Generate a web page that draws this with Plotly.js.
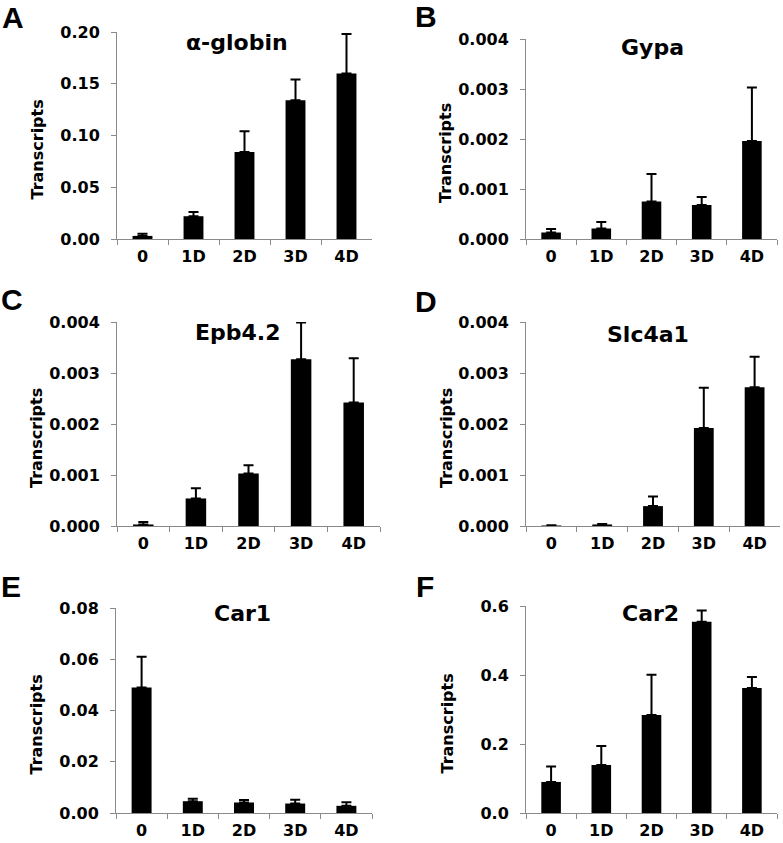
<!DOCTYPE html>
<html>
<head>
<meta charset="utf-8">
<script src="https://cdn.plot.ly/plotly-3.0.1.min.js"></script>
<style>html,body{margin:0;padding:0;background:#fff;}#chart{width:783px;height:843px;}</style>
</head>
<body>
<div id="chart"></div>
<script>
// ---- data ----
const categories = ['0', '1D', '2D', '3D', '4D'];

const alphaGlobin    = [0.003, 0.022, 0.084, 0.134, 0.160];
const alphaGlobinErr = [0.002, 0.004, 0.020, 0.020, 0.038];

const gypa    = [0.00013, 0.00021, 0.00075, 0.00068, 0.00196];
const gypaErr = [0.00007, 0.00013, 0.00055, 0.00016, 0.00107];

const epb42    = [0.00003, 0.00054, 0.00103, 0.00327, 0.00242];
const epb42Err = [0.00005, 0.00020, 0.00016, 0.00072, 0.00087];

const slc4a1    = [0.00001, 0.00003, 0.00039, 0.00192, 0.00272];
const slc4a1Err = [0.000003, 0.00001, 0.00019, 0.00079, 0.00060];

const car1    = [0.049, 0.0046, 0.0041, 0.0037, 0.0028];
const car1Err = [0.012, 0.0010, 0.0010, 0.0015, 0.0014];

const car2    = [0.090, 0.139, 0.284, 0.554, 0.362];
const car2Err = [0.045, 0.055, 0.117, 0.033, 0.032];

const geneNames    = ['α-globin', 'Gypa', 'Epb4.2', 'Slc4a1', 'Car1', 'Car2'];
const panelLetters = ['A', 'B', 'C', 'D', 'E', 'F'];
const yAxisTitle = 'Transcripts';

// ---- layout geometry (pixels) ----
const W = 783, H = 843;
const panels = [
  {vals: alphaGlobin, err: alphaGlobinErr, x0: 117, x1: 372, y0: 32,  y1: 239, max: 0.20,  dtick: 0.05,  fmt: '.2f', tx: 237, ty: 43,  lx: 13, ly: 17,  yx: 37},
  {vals: gypa,        err: gypaErr,        x0: 526, x1: 777, y0: 39,  y1: 239, max: 0.004, dtick: 0.001, fmt: '.3f', tx: 652, ty: 47,  lx: 426, ly: 16, yx: 446},
  {vals: epb42,       err: epb42Err,       x0: 117, x1: 380, y0: 322, y1: 526, max: 0.004, dtick: 0.001, fmt: '.3f', tx: 238, ty: 333, lx: 12, ly: 299, yx: 36},
  {vals: slc4a1,      err: slc4a1Err,      x0: 526, x1: 780, y0: 322, y1: 526, max: 0.004, dtick: 0.001, fmt: '.3f', tx: 648, ty: 335, lx: 426, ly: 302, yx: 446},
  {vals: car1,        err: car1Err,        x0: 116, x1: 372, y0: 608, y1: 813, max: 0.08,  dtick: 0.02,  fmt: '.2f', tx: 242, ty: 613, lx: 11, ly: 586, yx: 36},
  {vals: car2,        err: car2Err,        x0: 526, x1: 777, y0: 606, y1: 813, max: 0.6,   dtick: 0.2,   fmt: '.1f', tx: 650, ty: 613, lx: 425, ly: 586, yx: 447}
];

const FONT = 'DejaVu Sans, Liberation Sans, Arial, sans-serif';
const AXC = '#8a8a8a';

const data = [];
const layout = {
  width: W, height: H,
  margin: {l: 0, r: 0, t: 0, b: 0},
  paper_bgcolor: '#fff', plot_bgcolor: '#fff',
  showlegend: false,
  bargap: 0.61,
  annotations: []
};

panels.forEach((p, i) => {
  const n = i === 0 ? '' : String(i + 1);
  data.push({
    type: 'bar',
    x: categories,
    y: p.vals,
    xaxis: 'x' + n,
    yaxis: 'y' + n,
    marker: {color: '#000', line: {width: 0}},
    error_y: {
      type: 'data', symmetric: false,
      array: p.err, arrayminus: p.err.map(() => 0),
      color: '#000', thickness: 2, width: 5
    },
    hoverinfo: 'none'
  });
  layout['xaxis' + n] = {
    domain: [p.x0 / W, p.x1 / W],
    anchor: 'y' + n,
    type: 'category',
    showline: true, linecolor: AXC, linewidth: 1,
    ticks: 'outside', tickson: 'boundaries', ticklen: 5, tickcolor: AXC, tickwidth: 1,
    showgrid: false, zeroline: false,
    tickfont: {family: FONT, size: 16, color: '#000', weight: 'bold'},
    ticklabelstandoff: 3,
    fixedrange: true
  };
  layout['yaxis' + n] = {
    domain: [1 - p.y1 / H, 1 - p.y0 / H],
    anchor: 'x' + n,
    range: [0, p.max],
    dtick: p.dtick, tick0: 0,
    tickformat: p.fmt,
    showline: true, linecolor: AXC, linewidth: 1,
    ticks: 'outside', ticklen: 5, tickcolor: AXC, tickwidth: 1,
    showgrid: false, zeroline: false,
    tickfont: {family: FONT, size: 16, color: '#000', weight: 'bold'},
    ticklabelstandoff: 8,
    fixedrange: true
  };
  layout.annotations.push({
    xref: 'paper', yref: 'paper', x: p.tx / W, y: 1 - p.ty / H,
    xanchor: 'center', yanchor: 'middle', showarrow: false,
    text: geneNames[i],
    font: {family: FONT, size: 22, color: '#000', weight: 'bold'}
  });
  layout.annotations.push({
    xref: 'paper', yref: 'paper', x: p.lx / W, y: 1 - p.ly / H,
    xanchor: 'center', yanchor: 'middle', showarrow: false,
    text: panelLetters[i],
    font: {family: 'Liberation Sans, Arial, sans-serif', size: 30, color: '#000', weight: 'bold'}
  });
  layout.annotations.push({
    xref: 'paper', yref: 'paper', x: p.yx / W, y: 1 - ((p.y0 + p.y1) / 2 + 14) / H,
    xanchor: 'center', yanchor: 'middle', showarrow: false,
    textangle: -90,
    text: yAxisTitle,
    font: {family: FONT, size: 16, color: '#000', weight: 'bold'}
  });
});

Plotly.newPlot('chart', data, layout, {displayModeBar: false, staticPlot: true});
</script>
</body>
</html>
